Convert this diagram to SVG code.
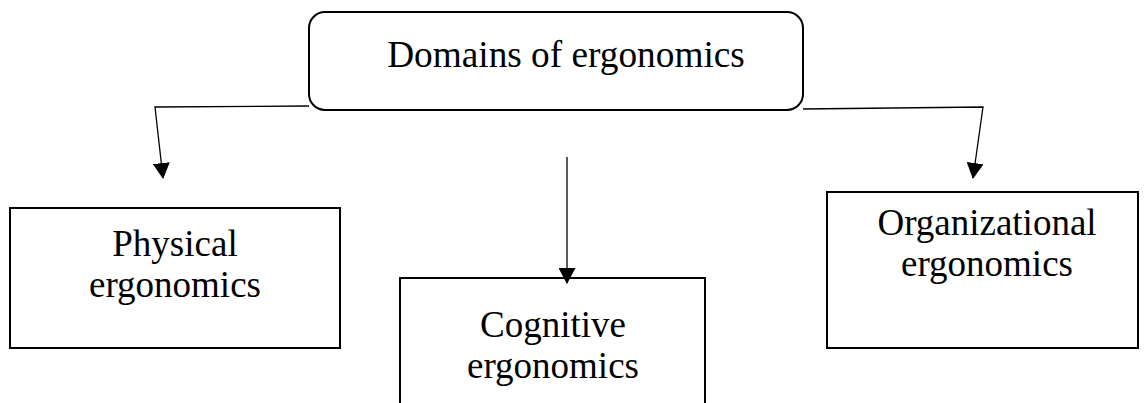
<svg xmlns="http://www.w3.org/2000/svg" width="1144" height="403" viewBox="0 0 1144 403">
<style>
.box{fill:#fff;stroke:#000;stroke-width:2}
.lbl{font-family:"Liberation Serif","Times New Roman",serif;font-size:37px;fill:#000;text-anchor:middle}
.conn{fill:none;stroke:#000;stroke-width:1.3}
</style>
<defs>
<marker id="arr" viewBox="0 0 16 17" refX="15" refY="8.5" markerWidth="16" markerHeight="17" markerUnits="userSpaceOnUse" orient="auto">
<path d="M0,0 L16,8.5 L0,17 Z" fill="#000"/>
</marker>
</defs>
<g id="root">
<rect class="box" x="309" y="12" width="494" height="98" rx="16"/>
<text class="lbl" x="566" y="67" style="font-size:37.3px">Domains of ergonomics</text>
</g>
<g id="physical">
<rect class="box" x="10" y="208" width="330" height="140"/>
<text class="lbl" x="175" y="256">Physical</text>
<text class="lbl" x="175" y="297">ergonomics</text>
</g>
<g id="cognitive">
<rect class="box" x="400" y="278" width="305" height="140"/>
<text class="lbl" x="553" y="337">Cognitive</text>
<text class="lbl" x="553" y="378">ergonomics</text>
</g>
<g id="organizational">
<rect class="box" x="827" y="192" width="311" height="156"/>
<text class="lbl" x="987" y="235">Organizational</text>
<text class="lbl" x="987" y="276">ergonomics</text>
</g>
<g id="connectors">
<polyline class="conn" points="309,106 155,107 163,178" marker-end="url(#arr)"/>
<line class="conn" x1="567" y1="157" x2="567" y2="283" marker-end="url(#arr)"/>
<polyline class="conn" points="803,109 983,107 973,178" marker-end="url(#arr)"/>
</g>
</svg>
